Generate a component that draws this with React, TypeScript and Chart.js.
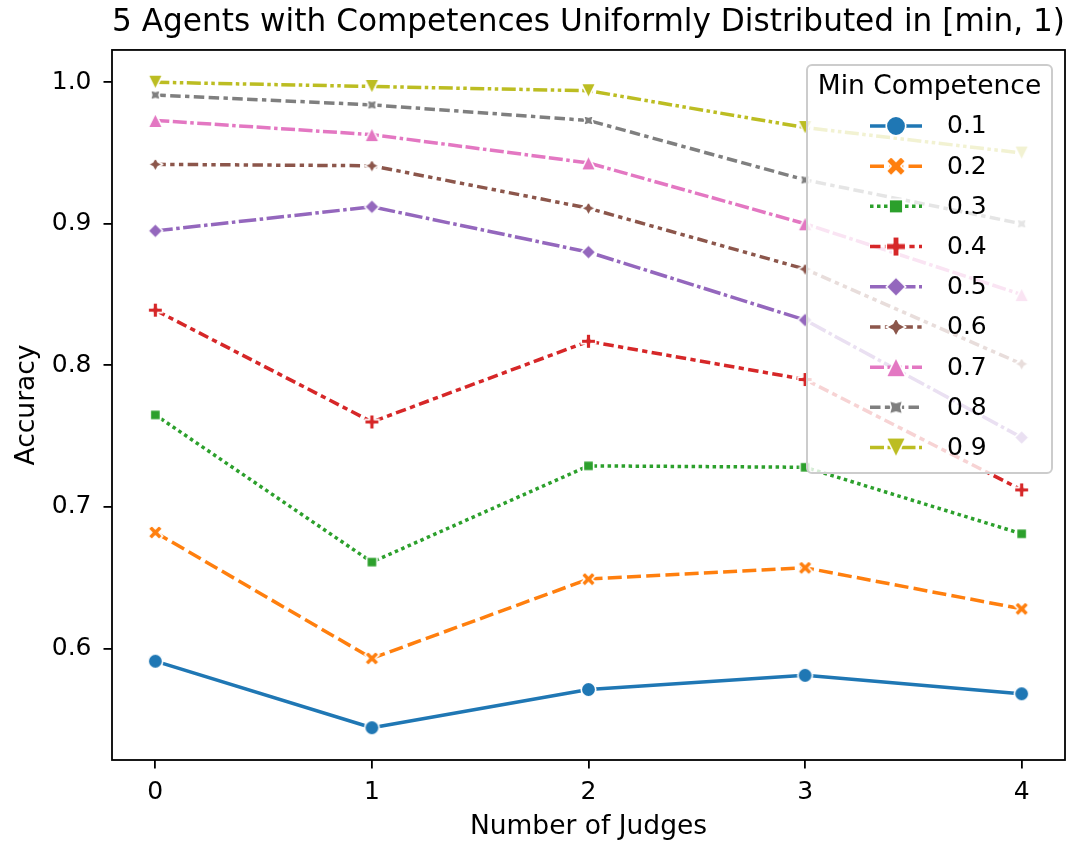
import React, { useEffect, useRef } from 'react';
import { Chart, registerables } from 'chart.js';

Chart.register(...registerables);

// ---------------- data ----------------
const TITLE = '5 Agents with Competences Uniformly Distributed in [min, 1)';
const X_LABEL = 'Number of Judges';
const Y_LABEL = 'Accuracy';
const LEGEND_TITLE = 'Min Competence';

const JUDGES = [0, 1, 2, 3, 4];
const X_TICKS = [0, 1, 2, 3, 4];
const Y_TICKS = [0.6, 0.7, 0.8, 0.9, 1.0];
const MIN_COMPETENCE = ['0.1', '0.2', '0.3', '0.4', '0.5', '0.6', '0.7', '0.8', '0.9'];

const ACC_01 = [0.591, 0.544, 0.571, 0.581, 0.568];
const ACC_02 = [0.682, 0.593, 0.649, 0.657, 0.628];
const ACC_03 = [0.765, 0.661, 0.729, 0.728, 0.681];
const ACC_04 = [0.839, 0.760, 0.817, 0.790, 0.712];
const ACC_05 = [0.895, 0.912, 0.880, 0.832, 0.749];
const ACC_06 = [0.942, 0.941, 0.911, 0.868, 0.801];
const ACC_07 = [0.973, 0.963, 0.943, 0.900, 0.850];
const ACC_08 = [0.991, 0.984, 0.973, 0.931, 0.900];
const ACC_09 = [1.000, 0.997, 0.994, 0.968, 0.950];

const SERIES = [ACC_01, ACC_02, ACC_03, ACC_04, ACC_05, ACC_06, ACC_07, ACC_08, ACC_09];

// ---------------- styles ----------------
const FONT = '"DejaVu Sans"';
const COLORS = ['#1f77b4', '#ff7f0e', '#2ca02c', '#d62728', '#9467bd', '#8c564b', '#e377c2', '#7f7f7f', '#bcbd22'];
const DASHES: number[][] = [
  [],
  [4, 1.5],
  [1, 1],
  [3, 1.25, 1.5, 1.25],
  [5, 1, 1, 1],
  [3, 1.25, 1.25, 1.25, 1.25, 1.25],
  [4, 1, 4, 1, 1, 1],
  [3, 1.25, 3, 1.25, 1.25, 1.25],
  [4, 1, 1, 1, 1, 1],
];
const MARKERS = ['circle', 'xfilled', 'square', 'plusfilled', 'diamond', 'star', 'triUp', 'starRot', 'triDown'];

const LINE_W = 3.5;
const PLOT_MARKER = 14.5;
const LEGEND_MARKER = 19.5;
const EDGE_W = 1.65;
const SPINE_W = 1.8;
const TICK_FONT = 25;
const LABEL_FONT = 26.5;
const TITLE_FONT = 32.3;
const LEGEND_FONT = 25;
const LEGEND_TITLE_FONT = 26.5;

function poly(ctx: CanvasRenderingContext2D, pts: number[][]) {
  pts.forEach(([x, y], i) => (i === 0 ? ctx.moveTo(x, y) : ctx.lineTo(x, y)));
  ctx.closePath();
}

function regular(n: number, r: number, rotDeg: number, inner?: number) {
  const pts: number[][] = [];
  const count = inner ? n * 2 : n;
  for (let k = 0; k < count; k++) {
    const th = (2 * Math.PI * k) / count + Math.PI / 2 + (rotDeg * Math.PI) / 180;
    const rr = inner && k % 2 === 1 ? r * inner : r;
    pts.push([rr * Math.cos(th), -rr * Math.sin(th)]);
  }
  return pts;
}

function markerPath(ctx: CanvasRenderingContext2D, shape: string, s: number) {
  const h = s / 2;
  ctx.beginPath();
  switch (shape) {
    case 'circle':
      ctx.arc(0, 0, h, 0, Math.PI * 2);
      break;
    case 'xfilled':
      poly(ctx, [[-1, -2], [0, -1], [1, -2], [2, -1], [1, 0], [2, 1], [1, 2], [0, 1], [-1, 2], [-2, 1], [-1, 0], [-2, -1]].map(([x, y]) => [(x * s) / 4, (y * s) / 4]));
      break;
    case 'plusfilled':
      poly(ctx, [[-1, -3], [1, -3], [1, -1], [3, -1], [3, 1], [1, 1], [1, 3], [-1, 3], [-1, 1], [-3, 1], [-3, -1], [-1, -1]].map(([x, y]) => [(x * s) / 6, (y * s) / 6]));
      break;
    case 'square':
      poly(ctx, regular(4, h, 45));
      break;
    case 'diamond':
      poly(ctx, regular(4, h, 0));
      break;
    case 'star':
      poly(ctx, regular(4, h, 0, 0.5));
      break;
    case 'starRot':
      poly(ctx, regular(4, h, 45, 0.5));
      break;
    case 'triUp':
      poly(ctx, [[0, -h], [-h, h], [h, h]]);
      break;
    case 'triDown':
      poly(ctx, [[0, h], [-h, -h], [h, -h]]);
      break;
  }
}

function makeMarker(shape: string, color: string, s: number, ew: number) {
  const size = Math.ceil(s + ew + 4);
  const c = document.createElement('canvas');
  c.width = size;
  c.height = size;
  const ctx = c.getContext('2d')!;
  ctx.translate(size / 2, size / 2);
  markerPath(ctx, shape, s);
  ctx.fillStyle = color;
  ctx.fill();
  ctx.lineJoin = 'round';
  ctx.lineWidth = ew;
  ctx.strokeStyle = '#ffffff';
  ctx.stroke();
  return c;
}

export default function App() {
  const ref = useRef<HTMLCanvasElement>(null);

  useEffect(() => {
    const canvas = ref.current;
    if (!canvas) return;

    const plotMarkers = MARKERS.map((m, i) => makeMarker(m, COLORS[i], PLOT_MARKER, EDGE_W));
    const legendMarkers = MARKERS.map((m, i) => makeMarker(m, COLORS[i], LEGEND_MARKER, EDGE_W));

    const all = SERIES.flat();
    const dmin = Math.min(...all);
    const dmax = Math.max(...all);
    const margin = (dmax - dmin) * 0.05;
    const xmin = X_TICKS[0];
    const xmax = X_TICKS[X_TICKS.length - 1];
    const xmargin = (xmax - xmin) * 0.05;

    const datasets = SERIES.map((vals, i) => ({
      label: MIN_COMPETENCE[i],
      data: JUDGES.map((x, j) => ({ x, y: vals[j] })),
      borderColor: COLORS[i],
      backgroundColor: COLORS[i],
      borderWidth: LINE_W,
      borderDash: DASHES[i].map((d) => d * LINE_W),
      borderCapStyle: DASHES[i].length ? 'butt' : 'square',
      borderJoinStyle: 'round',
      pointStyle: plotMarkers[i],
      pointRadius: 7,
      pointHoverRadius: 7,
      tension: 0,
      fill: false,
      order: SERIES.length - i,
    }));

    const overlay = {
      id: 'overlay',
      afterDatasetsDraw(chart: any) {
        const { ctx, chartArea: a } = chart;
        ctx.save();
        // spines
        ctx.strokeStyle = '#000';
        ctx.lineWidth = SPINE_W;
        ctx.setLineDash([]);
        ctx.strokeRect(a.left, a.top, a.right - a.left, a.bottom - a.top);

        // legend
        const bw = 245;
        const bh = 408;
        const bx = a.right - 13 - bw;
        const by = a.top + 15;
        ctx.beginPath();
        (ctx as any).roundRect(bx, by, bw, bh, 5);
        ctx.fillStyle = 'rgba(255,255,255,0.8)';
        ctx.fill();
        ctx.strokeStyle = '#cccccc';
        ctx.lineWidth = 2;
        ctx.stroke();

        ctx.fillStyle = '#000';
        ctx.textBaseline = 'middle';
        ctx.textAlign = 'center';
        ctx.font = `${LEGEND_TITLE_FONT}px ${FONT}`;
        ctx.fillText(LEGEND_TITLE, bx + bw / 2, by + 22);

        const hx0 = bx + 63;
        const hx1 = bx + 115;
        const lx = bx + 140;
        chart.data.datasets.forEach((ds: any, i: number) => {
          const y = by + 61 + i * 40.2;
          ctx.save();
          ctx.strokeStyle = ds.borderColor;
          ctx.lineWidth = LINE_W;
          ctx.lineCap = 'butt';
          ctx.setLineDash(ds.borderDash);
          ctx.beginPath();
          ctx.moveTo(hx0, y);
          ctx.lineTo(hx1, y);
          ctx.stroke();
          ctx.restore();
          const m = legendMarkers[i];
          ctx.drawImage(m, (hx0 + hx1) / 2 - m.width / 2, y - m.height / 2);
          ctx.fillStyle = '#000';
          ctx.textAlign = 'left';
          ctx.textBaseline = 'middle';
          ctx.font = `${LEGEND_FONT}px ${FONT}`;
          ctx.fillText(ds.label, lx, y + 1);
        });
        ctx.restore();
      },
    };

    const chart = new Chart(canvas, {
      type: 'line',
      data: { datasets } as any,
      options: {
        responsive: false,
        animation: false,
        devicePixelRatio: 1,
        layout: { padding: { left: 0, right: 17, top: 0, bottom: 0 } },
        plugins: {
          legend: { display: false },
          tooltip: { enabled: false },
          title: {
            display: true,
            text: TITLE,
            fullSize: false,
            color: '#000',
            font: { family: FONT, size: TITLE_FONT, weight: 'normal' },
            padding: { top: 3.5, bottom: 7.7 },
          },
        },
        scales: {
          x: {
            type: 'linear',
            min: xmin - xmargin,
            max: xmax + xmargin,
            afterBuildTicks: (s: any) => {
              s.ticks = X_TICKS.map((v) => ({ value: v }));
            },
            afterFit: (s: any) => {
              s.height = 90;
            },
            border: { display: false },
            grid: { display: true, drawOnChartArea: false, drawTicks: true, tickLength: 8.5, color: '#000', lineWidth: SPINE_W },
            ticks: {
              color: '#000',
              font: { family: FONT, size: TICK_FONT },
              padding: 9,
              maxRotation: 0,
              autoSkip: false,
              callback: (v: any) => String(v),
            },
            title: {
              display: true,
              text: X_LABEL,
              color: '#000',
              font: { family: FONT, size: LABEL_FONT },
              padding: { top: 0, bottom: 7 },
            },
          },
          y: {
            type: 'linear',
            min: dmin - margin,
            max: dmax + margin,
            afterBuildTicks: (s: any) => {
              s.ticks = Y_TICKS.map((v) => ({ value: v }));
            },
            afterFit: (s: any) => {
              s.width = 112;
            },
            border: { display: false },
            grid: { display: true, drawOnChartArea: false, drawTicks: true, tickLength: 8.5, color: '#000', lineWidth: SPINE_W },
            ticks: {
              color: '#000',
              font: { family: FONT, size: TICK_FONT },
              padding: 12,
              autoSkip: false,
              callback: (v: any) => Number(v).toFixed(1),
            },
            title: {
              display: true,
              text: Y_LABEL,
              color: '#000',
              font: { family: FONT, size: LABEL_FONT },
              padding: { top: 11, bottom: 0 },
            },
          },
        },
      } as any,
      plugins: [overlay],
    });

    return () => chart.destroy();
  }, []);

  return (
    <div style={{ position: 'absolute', left: 0, top: 0, width: 1082, height: 850, background: '#ffffff' }}>
      <canvas ref={ref} width={1082} height={850} style={{ display: 'block', width: 1082, height: 850 }} />
    </div>
  );
}
